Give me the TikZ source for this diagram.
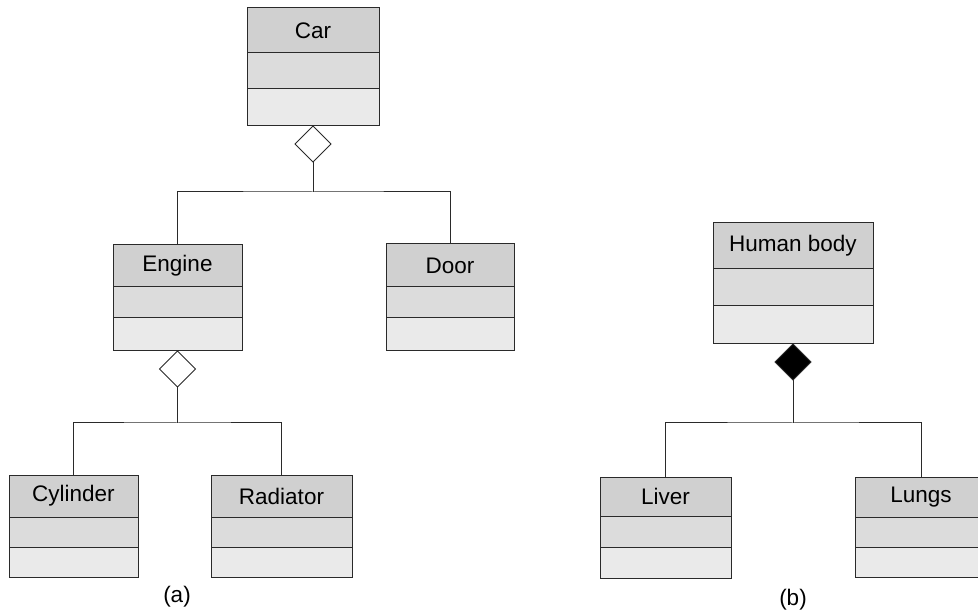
\documentclass[tikz,border=0pt]{standalone}
\usepackage{fontspec}
\setmainfont{Liberation Sans}
\usetikzlibrary{positioning,shapes.geometric}
\definecolor{gristete}{HTML}{D0D0D0}
\definecolor{grismilieu}{HTML}{DCDCDC}
\definecolor{grisbas}{HTML}{EAEAEA}
\definecolor{trait}{HTML}{2A2A2A}

\begin{document}
\begin{tikzpicture}[x=1pt, y=-1pt]
	\tikzset{entete/.style={rectangle, draw=trait, fill=gristete, line width=1pt, inner sep=0pt, outer sep=0pt, anchor=north west, font=\fontsize{22.5}{26}\selectfont},
		milieu/.style={rectangle, draw=trait, fill=grismilieu, line width=1pt, inner sep=0pt, outer sep=0pt},
		bas/.style={rectangle, draw=trait, fill=grisbas, line width=1pt, inner sep=0pt, outer sep=0pt},
		losange/.style={diamond, draw=trait, line width=1pt, inner sep=0pt, outer sep=0pt, minimum width=36pt, minimum height=36pt},
		lien/.style={draw=trait, line width=1pt},
		etiquette/.style={font=\fontsize{22.5}{26}\selectfont}};

	\clip (0,0) rectangle (978,612);

	% (a) voiture
	\node[entete, minimum width=132pt, minimum height=45pt] (car) at (247,  8) {Car};
	\node[milieu, minimum width=132pt, minimum height=36pt, below=0pt of car] (car2) {};
	\node[bas,    minimum width=132pt, minimum height=37pt, below=0pt of car2] (car3) {};

	\node[entete, minimum width=129pt, minimum height=42pt] (eng) at (113,245) {Engine};
	\node[milieu, minimum width=129pt, minimum height=31pt, below=0pt of eng] (eng2) {};
	\node[bas,    minimum width=129pt, minimum height=33pt, below=0pt of eng2] (eng3) {};

	\node[entete, minimum width=128pt, minimum height=43pt] (door) at (386,244) {Door};
	\node[milieu, minimum width=128pt, minimum height=31pt, below=0pt of door] (door2) {};
	\node[bas,    minimum width=128pt, minimum height=33pt, below=0pt of door2] (door3) {};

	\node[entete, minimum width=129pt, minimum height=42pt] (cyl) at (  9,475) {Cylinder};
	\node[milieu, minimum width=129pt, minimum height=30pt, below=0pt of cyl] (cyl2) {};
	\node[bas,    minimum width=129pt, minimum height=30pt, below=0pt of cyl2] (cyl3) {};

	\node[entete, minimum width=141pt, minimum height=42pt] (rad) at (211,475) {Radiator};
	\node[milieu, minimum width=141pt, minimum height=30pt, below=0pt of rad] (rad2) {};
	\node[bas,    minimum width=141pt, minimum height=30pt, below=0pt of rad2] (rad3) {};

	\node[losange, fill=white, below=0pt of car3] (dcar) {};
	\node[losange, fill=white, below=0pt of eng3] (deng) {};
	\coordinate[below=30pt of dcar] (jcar);
	\coordinate[below=36pt of deng] (jeng);

	\draw[lien] (dcar) -- (jcar);
	\draw[lien] (eng.north) |- (jcar) -| (door.north);
	\draw[lien] (deng) -- (jeng);
	\draw[lien] (cyl.north) |- (jeng) -| (rad.north);

	\node[etiquette] (la) at (177,597) {(a)};

	% (b) corps humain
	\node[entete, minimum width=160pt, minimum height=46pt] (hum) at (713,223) {Human body};
	\node[milieu, minimum width=160pt, minimum height=37pt, below=0pt of hum] (hum2) {};
	\node[bas,    minimum width=160pt, minimum height=38pt, below=0pt of hum2] (hum3) {};

	\node[entete, minimum width=131pt, minimum height=39pt] (liv) at (600,477) {Liver};
	\node[milieu, minimum width=131pt, minimum height=31pt, below=0pt of liv] (liv2) {};
	\node[bas,    minimum width=131pt, minimum height=31pt, below=0pt of liv2] (liv3) {};

	\node[entete, minimum width=132pt, minimum height=40pt] (lun) at (855,477) {Lungs};
	\node[milieu, minimum width=132pt, minimum height=30pt, below=0pt of lun] (lun2) {};
	\node[bas,    minimum width=132pt, minimum height=30pt, below=0pt of lun2] (lun3) {};

	\node[losange, fill=black, below=0pt of hum3] (dhum) {};
	\coordinate[below=43pt of dhum] (jhum);

	\draw[lien] (dhum) -- (jhum);
	\draw[lien] (liv.north) |- (jhum) -| (lun.north);

	\node[etiquette] (lb) at (793,600) {(b)};

\end{tikzpicture}
\end{document}
